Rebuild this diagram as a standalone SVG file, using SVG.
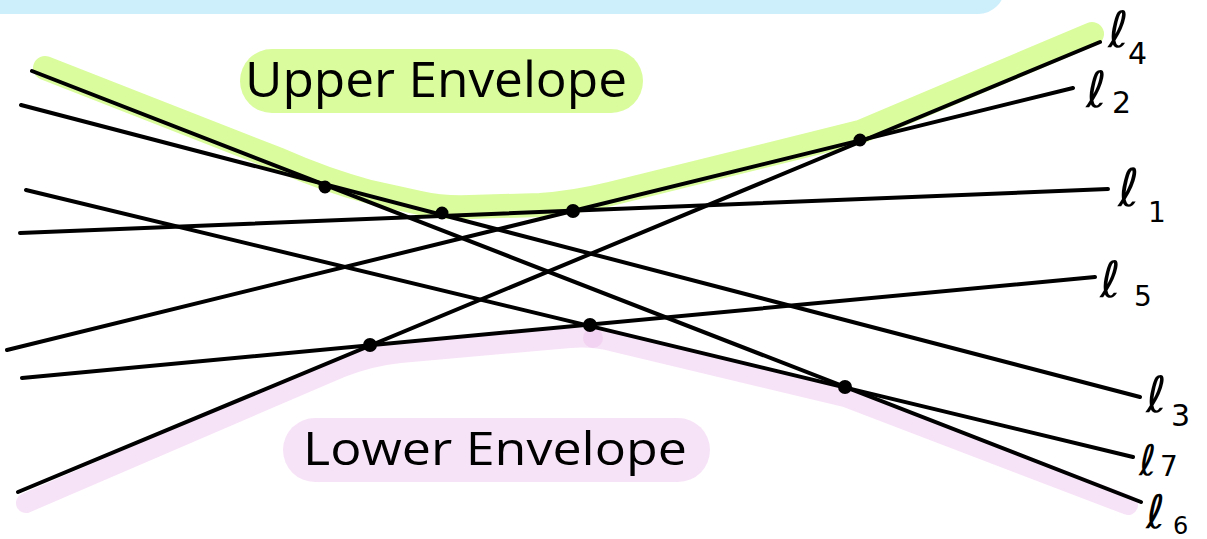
<svg xmlns="http://www.w3.org/2000/svg" width="1207" height="539" viewBox="0 0 1207 539">
<style>
.ln{stroke:#000;stroke-width:4;stroke-linecap:round;fill:none}
.dot{fill:#000;stroke:#000;stroke-width:2}
.hl{fill:none;stroke-linecap:round;stroke-linejoin:round}
.lbl{font-family:"DejaVu Sans","Liberation Sans",sans-serif;fill:#000}
.big{font-family:"Open Sans","Liberation Sans",sans-serif;fill:#000}
</style>
<rect width="1207" height="539" fill="#fff"/>
<g id="title-bar"><rect x="-40" y="-40" width="1045" height="54" rx="27" fill="#cdeffc"/></g>
<g id="upper-highlight"><path class="hl" stroke="#dafc9d" stroke-width="24" d="M45,68 L280,160 Q325,180 370,192 L420,203 Q442,208 470,207 L540,205 Q573,203 610,194 L860,132 L1092,34"/></g>
<g id="lower-highlight"><path class="hl" stroke="#f7e3f7" stroke-width="20" d="M26,503 L340,368 Q370,356 400,353 L570,338 Q592,336 615,342 L845,397 L1128,505"/><circle cx="593" cy="338" r="10" fill="#f2d3f1"/></g>
<g id="upper-label"><rect x="240" y="49" width="403" height="64" rx="32" fill="#dafc9d"/><text class="big" x="245" y="97" font-size="50" textLength="382" lengthAdjust="spacingAndGlyphs">Upper Envelope</text></g>
<g id="lower-label"><rect x="283" y="418" width="427" height="64" rx="32" fill="#f7e3f7"/><text class="big" x="303" y="465" font-size="46" textLength="384" lengthAdjust="spacingAndGlyphs">Lower Envelope</text></g>
<g id="connectors">
<line id="line-l6" class="ln" x1="32" y1="71" x2="1141" y2="502"/>
<line id="line-l3" class="ln" x1="21" y1="105" x2="1140" y2="397"/>
<line id="line-l7" class="ln" x1="26" y1="190" x2="1133" y2="457"/>
<line id="line-l1" class="ln" x1="20" y1="233" x2="1108" y2="189"/>
<line id="line-l2" class="ln" x1="7" y1="350" x2="1073" y2="88"/>
<line id="line-l4" class="ln" x1="18" y1="492" x2="1100" y2="42"/>
<line id="line-l5" class="ln" x1="22" y1="378" x2="1095" y2="277"/>
</g>
<g id="vertices">
<circle class="dot" cx="325" cy="187" r="5.5"/>
<circle class="dot" cx="442" cy="213" r="5.5"/>
<circle class="dot" cx="573" cy="211" r="6"/>
<circle class="dot" cx="860" cy="140" r="5.5"/>
<circle class="dot" cx="370" cy="345" r="6"/>
<circle class="dot" cx="590" cy="325" r="6"/>
<circle class="dot" cx="845" cy="387" r="6"/>
</g>
<g id="label-l4"><text class="lbl" x="1108" y="47" font-size="50">ℓ</text><text class="lbl" x="1128" y="64" font-size="30">4</text></g>
<g id="label-l2"><text class="lbl" x="1086" y="107" font-size="50">ℓ</text><text class="lbl" x="1112" y="113" font-size="30">2</text></g>
<g id="label-l1"><text class="lbl" x="1118" y="206" font-size="52">ℓ</text><text class="lbl" x="1148" y="222" font-size="28">1</text></g>
<g id="label-l5"><text class="lbl" x="1100" y="297" font-size="50">ℓ</text><text class="lbl" x="1134" y="306" font-size="28">5</text></g>
<g id="label-l3"><text class="lbl" x="1146" y="412" font-size="50">ℓ</text><text class="lbl" x="1171" y="426" font-size="30">3</text></g>
<g id="label-l7"><text class="lbl" x="1139" y="475" font-size="42">ℓ</text><text class="lbl" x="1160" y="476" font-size="28">7</text></g>
<g id="label-l6"><text class="lbl" x="1146" y="528" font-size="46">ℓ</text><text class="lbl" x="1173" y="534" font-size="24">6</text></g>
</svg>
